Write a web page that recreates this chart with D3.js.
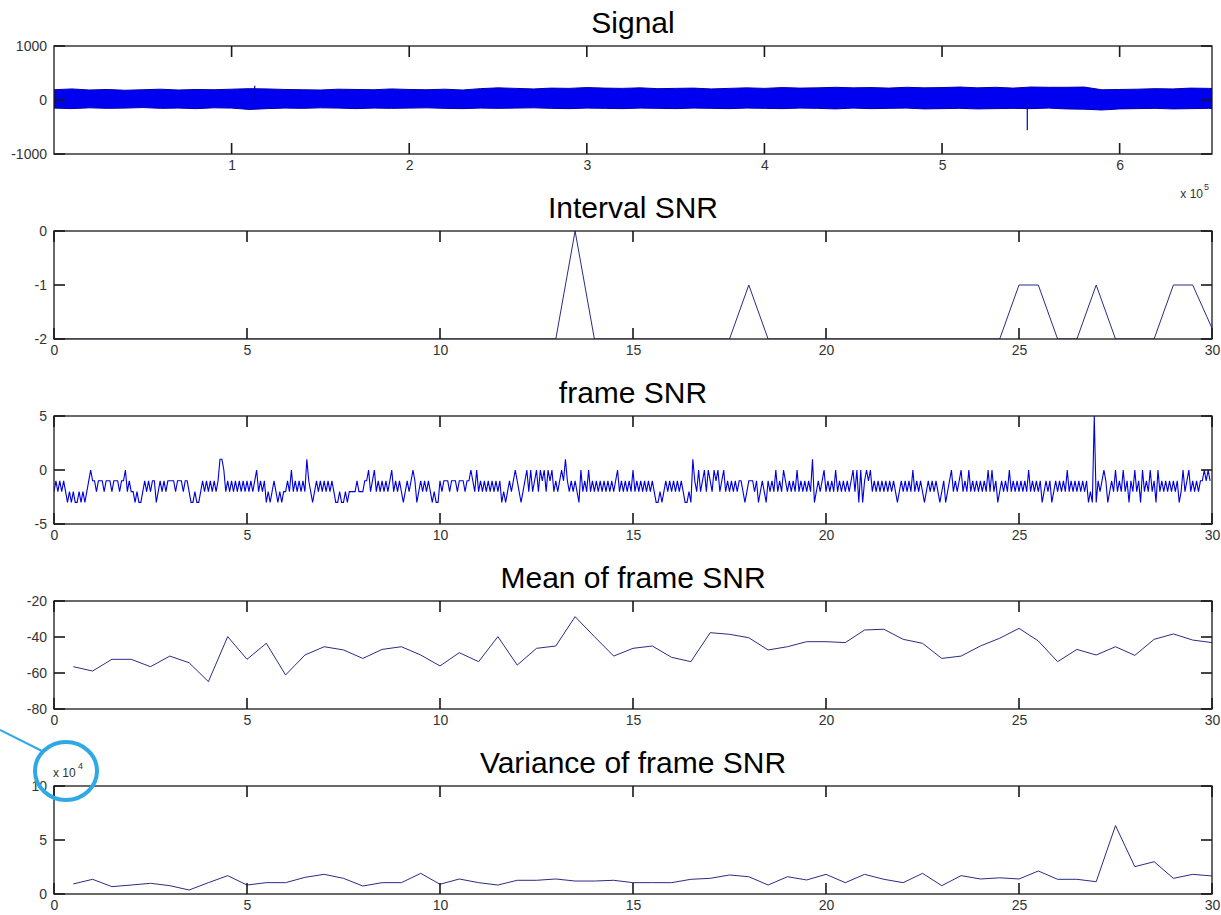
<!DOCTYPE html>
<html>
<head>
<meta charset="utf-8">
<script src="https://cdn.jsdelivr.net/npm/d3@7"></script>
<style>
body { margin: 0; background: #fff; }
text { font-family: "Liberation Sans", Arial, sans-serif; }
</style>
</head>
<body>
<svg></svg>
<script>
// ---- data ----
const titles = ["Signal", "Interval SNR", "frame SNR", "Mean of frame SNR", "Variance of frame SNR"];

// signal: upper / lower envelope every 0.1e5 samples, plus two isolated spikes
const sigTop = [190,205,185,195,180,190,200,185,195,190,
                200,210,205,195,190,185,200,195,190,205,
                195,190,200,185,210,225,215,205,220,215,
                230,220,215,225,210,215,220,205,215,225,
                215,230,220,225,235,225,230,220,235,225,
                230,240,225,235,220,240,235,235,240,190,
                195,200,210,205,220,215,205];
const sigBot = [-150,-160,-145,-155,-150,-140,-155,-150,-160,-145,
                -150,-175,-160,-150,-155,-145,-150,-160,-150,-155,
                -150,-145,-155,-160,-150,-155,-150,-145,-155,-160,
                -150,-155,-160,-150,-155,-160,-150,-155,-160,-150,
                -155,-160,-150,-155,-165,-150,-160,-155,-150,-165,
                -160,-155,-165,-160,-155,-160,-150,-165,-170,-185,
                -165,-160,-155,-165,-160,-155,-165];
const sigSpikeX = [113000, 548000];
const sigSpikeV = [265, -560];
const sigLength = 652000;

// interval SNR (break points of the polyline)
const intervalT = [0, 13, 13.5, 14, 17.5, 18, 18.5, 24.5, 25, 25.5, 26, 26.5, 27, 27.5, 28.5, 29, 29.5, 30];
const intervalV = [-2, -2, 0, -2, -2, -1, -2, -2, -1, -1, -2, -2, -1, -2, -2, -1, -1, -1.8];

// frame SNR: one digit per 0.05 s, value = digit - 3
const frameCodes = [
  "12121210101001010123", "22122212221222122312", "11010012121220121212",
  "22212221221001001212", "12121244312121212121", "21212312120101210101",
  "12131212121421012121", "21212100100101111211", "12231231212121231212",
  "10121232012121210100", "21222122212221223213", "12121212121201012123",
  "21012313123132313231", "21232421212103121312", "12121212121231212121",
  "31212121212100101212", "12121210010421312313", "21323123121212122101",
  "22212012102121312132", "12121312121214012123", "12121312121212313030",
  "23231212121212121012", "12121312121012121210", "12012312123121312121",
  "21213131201212131212", "12121312121201212012", "12121312121212120108",
  "02123201213121312021", "31203121312031212121", "21201312312121223232"
];

// mean and variance of frame SNR, one value per 0.5 s from 0.5 to 30
const meanV = [-56.5,-58.9,-52.4,-52.4,-56.5,-50.6,-54.3,-64.8,-39.8,-52.4,
               -43.5,-61.1,-50,-45.4,-47.2,-51.9,-46.9,-45.4,-50,-56.1,
               -48.7,-53.7,-39.8,-55.6,-46.3,-45,-28.7,-39.8,-50.6,-46.3,
               -45,-51.3,-53.7,-37.6,-38.5,-40.4,-47.2,-45.4,-42.6,-42.6,
               -43.1,-36.1,-35.7,-41.3,-43.5,-51.9,-50.6,-45,-40.7,-35.2,
               -42.2,-53.7,-46.9,-50,-45.4,-50.2,-41.3,-38.3,-41.7,-43.1];
const varV = [9300,13600,6800,8300,9900,7700,3700,10500,17000,8300,
              10500,10500,15400,18200,14500,7400,10500,10500,19100,9000,
              13900,10500,8300,12700,12700,13900,12000,12000,12700,10500,
              10500,10500,13600,14500,17600,16000,8300,16000,13000,18200,
              10500,18200,13600,10500,19100,7700,17000,13900,15000,13900,
              21300,13600,13600,11400,63300,25300,29900,14500,18200,16700];

const sigXTicks = [100000, 200000, 300000, 400000, 500000, 600000];
const xTicks30 = [0, 5, 10, 15, 20, 25, 30];
const yTicks = [[-1000, 0, 1000], [-2, -1, 0], [-5, 0, 5], [-80, -60, -40, -20], [0, 50000, 100000]];

// ---- layout ----
const width = 1221, height = 915;
const left = 54, right = 1212, plotH = 108, tickLen = 11, tickW = 1.6;
const tops = [46, 231, 416, 601, 786];
const lineBlue = "#2b2b86";
const axisColor = "#1a1a1a";
const labelColor = "#333";

const svg = d3.select("svg").attr("width", width).attr("height", height);
let plain = function (d) { return String(d); };

function panel(i, xDomain, yDomain) {
  let g = svg.append("g").attr("transform", "translate(0," + tops[i] + ")");
  let x = d3.scaleLinear().domain(xDomain).range([left, right]);
  let y = d3.scaleLinear().domain(yDomain).range([plotH, 0]);
  g.append("clipPath").attr("id", "clip" + i)
    .append("rect").attr("x", left).attr("y", 0).attr("width", right - left).attr("height", plotH);
  let plot = g.append("g").attr("clip-path", "url(#clip" + i + ")");
  g.append("text")
    .attr("x", (left + right) / 2).attr("y", -13)
    .attr("text-anchor", "middle")
    .style("font-size", "30px").style("fill", "#000")
    .text(titles[i]);
  return { g: g, plot: plot, x: x, y: y };
}

function frame(p, xTicks, xFormat, yVals, yFormat) {
  let g = p.g;
  g.append("rect")
    .attr("x", left).attr("y", 0).attr("width", right - left).attr("height", plotH)
    .attr("fill", "none").attr("stroke", axisColor).attr("stroke-width", 1.3);
  // tick marks point inwards on all four sides
  let tg = g.append("g");
  xTicks.forEach(function (d) {
    tg.append("rect").attr("x", p.x(d) - tickW / 2).attr("y", 0)
      .attr("width", tickW).attr("height", tickLen).style("fill", axisColor);
    tg.append("rect").attr("x", p.x(d) - tickW / 2).attr("y", plotH - tickLen)
      .attr("width", tickW).attr("height", tickLen).style("fill", axisColor);
  });
  yVals.forEach(function (d) {
    tg.append("rect").attr("x", left).attr("y", p.y(d) - tickW / 2)
      .attr("width", tickLen).attr("height", tickW).style("fill", axisColor);
    tg.append("rect").attr("x", right - tickLen).attr("y", p.y(d) - tickW / 2)
      .attr("width", tickLen).attr("height", tickW).style("fill", axisColor);
  });

  let styleAxis = function (sel) {
    sel.attr("font-size", null).attr("font-family", null);
    sel.select("path.domain").remove();
    sel.selectAll(".tick line").remove();
    sel.selectAll("text").style("font-size", "14px").style("fill", labelColor);
  };
  g.append("g").attr("transform", "translate(0," + plotH + ")")
    .call(d3.axisBottom(p.x).tickValues(xTicks).tickFormat(xFormat).tickSize(0).tickPadding(6))
    .call(styleAxis);
  g.append("g").attr("transform", "translate(" + left + ",0)")
    .call(d3.axisLeft(p.y).tickValues(yVals).tickFormat(yFormat).tickSize(0).tickPadding(7))
    .call(styleAxis);
}

// ---- 1: Signal ----
let p0 = panel(0, [0, sigLength], [-1000, 1000]);
let sigX = sigTop.map(function (d, i) { return i * 10000; });
p0.plot.append("path")
  .datum(sigX)
  .attr("d", d3.area()
    .x(function (d) { return p0.x(d); })
    .y0(function (d, i) { return p0.y(sigBot[i]); })
    .y1(function (d, i) { return p0.y(sigTop[i]); }))
  .attr("fill", "#0000f0")
  .attr("stroke", "#0000b0")
  .attr("stroke-width", 1);
sigSpikeX.forEach(function (sx, i) {
  p0.plot.append("line")
    .attr("x1", p0.x(sx)).attr("x2", p0.x(sx))
    .attr("y1", p0.y(0)).attr("y2", p0.y(sigSpikeV[i]))
    .attr("stroke", "#0000c0").attr("stroke-width", 1.2);
});
frame(p0, sigXTicks, function (d) { return String(d / 100000); }, yTicks[0], plain);
svg.append("text").attr("x", 1203).attr("y", 198).attr("text-anchor", "end")
  .style("font-size", "12px").style("fill", labelColor).text("x 10");
svg.append("text").attr("x", 1204).attr("y", 190)
  .style("font-size", "9px").style("fill", labelColor).text("5");

// ---- 2: Interval SNR ----
let p1 = panel(1, [0, 30], [-2, 0]);
p1.plot.append("path")
  .datum(intervalT)
  .attr("d", d3.line()
    .x(function (d) { return p1.x(d); })
    .y(function (d, i) { return p1.y(intervalV[i]); }))
  .attr("fill", "none").attr("stroke", lineBlue).attr("stroke-width", 1);
frame(p1, xTicks30, plain, yTicks[1], plain);

// ---- 3: frame SNR ----
let frameV = frameCodes.join("").split("").map(function (c) { return +c - 3; });
let p2 = panel(2, [0, 30], [-5, 5]);
p2.plot.append("path")
  .datum(frameV)
  .attr("d", d3.line()
    .x(function (d, i) { return p2.x(i * 0.05); })
    .y(function (d) { return p2.y(d); }))
  .attr("fill", "none").attr("stroke", "#0000dc").attr("stroke-width", 1.1);
frame(p2, xTicks30, plain, yTicks[2], plain);

// ---- 4: Mean of frame SNR ----
let halfSec = d3.range(1, 61).map(function (k) { return k / 2; });
let p3 = panel(3, [0, 30], [-80, -20]);
p3.plot.append("path")
  .datum(meanV)
  .attr("d", d3.line()
    .x(function (d, i) { return p3.x(halfSec[i]); })
    .y(function (d) { return p3.y(d); }))
  .attr("fill", "none").attr("stroke", lineBlue).attr("stroke-width", 1);
frame(p3, xTicks30, plain, yTicks[3], plain);

// ---- 5: Variance of frame SNR ----
let p4 = panel(4, [0, 30], [0, 100000]);
p4.plot.append("path")
  .datum(varV)
  .attr("d", d3.line()
    .x(function (d, i) { return p4.x(halfSec[i]); })
    .y(function (d) { return p4.y(d); }))
  .attr("fill", "none").attr("stroke", lineBlue).attr("stroke-width", 1);
frame(p4, xTicks30, plain, yTicks[4], function (d) { return String(d / 10000); });
svg.append("text").attr("x", 53).attr("y", 777)
  .style("font-size", "12px").style("fill", labelColor).text("x 10");
svg.append("text").attr("x", 78).attr("y", 769)
  .style("font-size", "9px").style("fill", labelColor).text("4");

// annotation: blue circle around the exponent
svg.append("line")
  .attr("x1", 0).attr("y1", 730).attr("x2", 44).attr("y2", 752)
  .attr("stroke", "#2fa8e6").attr("stroke-width", 2);
svg.append("ellipse")
  .attr("cx", 66).attr("cy", 771).attr("rx", 31).attr("ry", 29)
  .attr("fill", "none").attr("stroke", "#2fa8e6").attr("stroke-width", 4);
</script>
</body>
</html>
